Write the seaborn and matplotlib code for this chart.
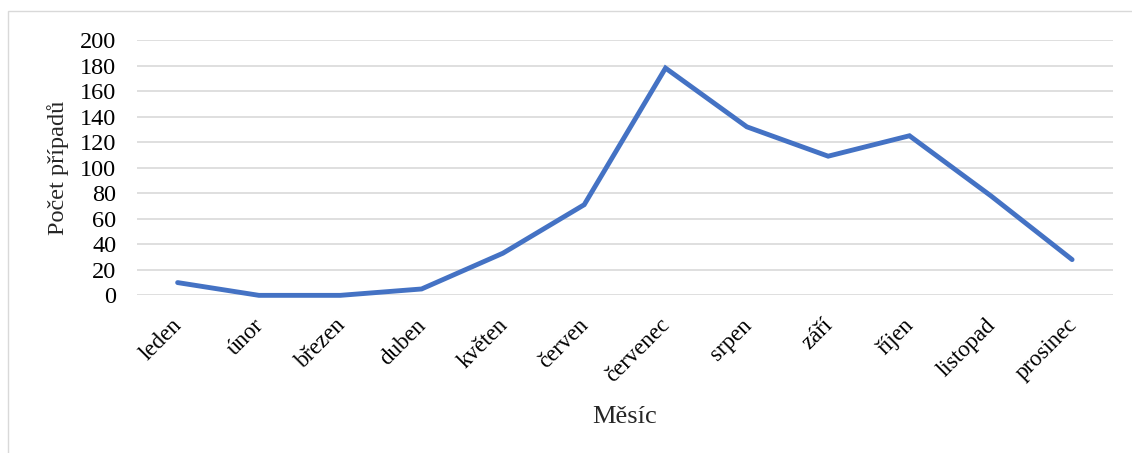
import matplotlib
matplotlib.use("Agg")
import matplotlib.pyplot as plt
import matplotlib.transforms as mtransforms
import seaborn as sns
import pandas as pd
from matplotlib.patches import Rectangle

# Monthly case counts
months = ["leden", "únor", "březen", "duben", "květen", "červen",
          "červenec", "srpen", "září", "říjen", "listopad", "prosinec"]
cases = [10, 0, 0, 5, 33, 71, 178, 132, 109, 125, 78, 28]
y_ticks = [0, 20, 40, 60, 80, 100, 120, 140, 160, 180, 200]

df = pd.DataFrame({"Měsíc": months, "Počet případů": cases})

sns.set_theme(style="white")
plt.rcParams["font.family"] = ["Liberation Serif", "DejaVu Serif"]

fig = plt.figure(figsize=(11.32, 4.53), dpi=100)
ax = fig.add_axes([0.121, 0.348, 0.862, 0.5637])

# light frame around the whole chart area
fig.patches.append(Rectangle((8 / 1132, -0.05), 1.2, 1 - 11 / 453 + 0.05,
                             transform=fig.transFigure, fill=False,
                             edgecolor="#D9D9D9", linewidth=1.0, zorder=0))

sns.lineplot(data=df, x="Měsíc", y="Počet případů", ax=ax, sort=False,
             color="#4472C4", linewidth=3.5, solid_joinstyle="miter")
for line in ax.get_lines():
    line.set_clip_on(False)

ax.set_xlim(-0.5, len(months) - 0.5)
ax.set_ylim(0, 200)
ax.set_yticks(y_ticks)
ax.set_yticklabels([str(v) for v in y_ticks], fontsize=17.5)
ax.yaxis.grid(True, color="#D9D9D9", linewidth=1.2)
ax.set_axisbelow(True)
for s in ax.spines.values():
    s.set_visible(False)
ax.tick_params(axis="y", length=0, pad=15, colors="black")
ax.tick_params(axis="x", length=0, pad=14, colors="black")

ax.set_xticks(range(len(months)))
ax.set_xticklabels(months, rotation=45, ha="right", va="top",
                   rotation_mode="anchor", fontsize=16.5)
shift = mtransforms.ScaledTranslation(-6 / 100, 0, fig.dpi_scale_trans)
for lbl in ax.get_xticklabels():
    lbl.set_transform(lbl.get_transform() + shift)

ax.set_xlabel("Měsíc", fontsize=19, labelpad=14)
ax.set_ylabel("Počet případů", fontsize=17.5, labelpad=8)

fig.savefig("out.png", dpi=100, facecolor="white")
